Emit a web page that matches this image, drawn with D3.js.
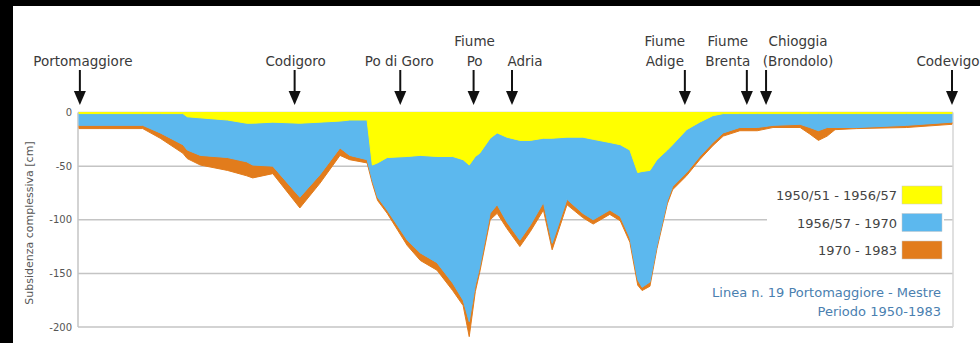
<!DOCTYPE html>
<html>
<head>
<meta charset="utf-8">
<script src="https://cdn.jsdelivr.net/npm/d3@7"></script>
<style>
body { margin: 0; background: #000; }
svg { display: block; }
text { font-family: "DejaVu Sans", sans-serif; }
</style>
</head>
<body>
<script>
// progressive distance along the levelling line (0 = Portomaggiore, 100 = Codevigo)
var dist = [0, 2.4, 7.3, 9.3, 11.9, 12.4, 13.9, 17.0, 19.2, 19.9, 22.2, 25.3, 27.6, 29.9, 31.0, 33.0,
  33.6, 34.2, 35.3, 37.6, 39.1, 41.0, 42.8, 44.0, 44.7, 45.4, 45.9, 47.1, 47.9, 49.0, 50.5, 51.7,
  53.2, 54.2, 55.9, 57.7, 58.9, 60.8, 62.0, 63.1, 64.0, 64.5, 65.4, 66.2, 67.4, 68.0, 69.6, 71.1,
  72.6, 73.8, 75.7, 77.7, 79.5, 82.6, 83.7, 84.7, 85.7, 86.6, 89.1, 94.8, 100];
// cumulative subsidence (cm) at the end of each period
var sub5057 = [-1, -1, -1, -1, -1, -4, -5, -7, -10, -10, -9, -10, -9, -8, -7, -7,
  -49, -47, -42, -41, -40, -41, -41, -44, -49, -41, -38, -24, -19, -23, -26, -26,
  -24, -24, -23, -23, -25, -28, -30, -35, -56, -55, -54, -44, -35, -30, -16, -9,
  -3, -1, -1, -1, -1, -1, -1, -1, -1, -1, -1, -1, -1];
var sub5770 = [-12, -12, -12, -19, -30, -35, -40, -42, -46, -49, -50, -79, -58, -33, -40, -44,
  -63, -79, -91, -119, -131, -140, -159, -175, -195, -161, -144, -94, -86, -102, -119, -105,
  -84, -122, -81, -94, -100, -91, -97, -117, -156, -163, -158, -124, -82, -69, -56, -41,
  -28, -19, -14, -14, -12, -11, -14, -17, -14, -14, -14, -12, -9];
var sub7083 = [-15, -15, -15, -24, -38, -43, -49, -54, -59, -61, -57, -89, -66, -40, -44, -47,
  -66, -82, -94, -124, -138, -147, -166, -180, -209, -167, -149, -100, -94, -108, -125, -111,
  -91, -128, -86, -98, -104, -95, -101, -121, -161, -166, -162, -127, -85, -72, -59, -44,
  -31, -22, -17, -17, -14, -14, -20, -26, -22, -16, -15, -14, -11];
var periods = ["1950/51 - 1956/57", "1956/57 - 1970", "1970 - 1983"];
var yTicks = [0, -50, -100, -150, -200];
var places = [["Portomaggiore"], ["Codigoro"], ["Po di Goro"], ["Fiume", "Po"], ["Adria"],
  ["Fiume", "Adige"], ["Fiume", "Brenta"], ["Chioggia", "(Brondolo)"], ["Codevigo"]];
var placeDist = [0.1, 24.7, 36.8, 45.2, 49.6, 69.4, 76.5, 78.7, 100];
var noteLines = ["Linea n. 19 Portomaggiore - Mestre", "Periodo 1950-1983"];

var colors = ["#ffff00", "#5cb8ee", "#e27c1c"];
var labelDx = [3, 1, -1, 1, 13, -20, -19, 32, -4];

var width = 980, height = 343;
var svg = d3.select("body").append("svg")
  .attr("width", width)
  .attr("height", height);

svg.append("rect")
  .attr("x", 13).attr("y", 6)
  .attr("width", width - 13).attr("height", height - 6)
  .attr("fill", "#ffffff");

var x = d3.scaleLinear().domain([0, 100]).range([79, 952]);
var y = d3.scaleLinear().domain([0, -200]).range([112.5, 327]);

// grid
svg.append("g").selectAll("line")
  .data(yTicks)
  .enter().append("line")
  .attr("x1", x(0) - 1).attr("x2", x(100) + 1)
  .attr("y1", function (d) { return y(d); })
  .attr("y2", function (d) { return y(d); })
  .attr("stroke", "#c4c4c4")
  .attr("stroke-width", 1.5);
svg.append("line")
  .attr("x1", x(0) - 1).attr("x2", x(0) - 1)
  .attr("y1", y(0)).attr("y2", y(-200))
  .attr("stroke", "#c4c4c4").attr("stroke-width", 1.5);
svg.append("line")
  .attr("x1", x(100) + 1).attr("x2", x(100) + 1)
  .attr("y1", y(0)).attr("y2", y(-200))
  .attr("stroke", "#d6d6d6").attr("stroke-width", 1.5);

// stacked bands
var bands = [
  { top: dist.map(function () { return 0; }), bottom: sub5057 },
  { top: sub5057, bottom: sub5770 },
  { top: sub5770, bottom: sub7083 }
];
var area = d3.area()
  .x(function (d) { return x(d.x); })
  .y0(function (d) { return y(d.a); })
  .y1(function (d) { return y(d.b); });
for (var i = bands.length - 1; i >= 0; i --) {
  var pts = dist.map(function (dd, j) {
    return { x: dd, a: bands[i].top[j], b: bands[i].bottom[j] };
  });
  svg.append("path")
    .datum(pts)
    .attr("d", area)
    .attr("fill", colors[i])
    .attr("stroke", colors[i])
    .attr("stroke-width", 1)
    .attr("stroke-linejoin", "round");
}

// y axis
var yAxis = d3.axisLeft(y)
  .tickValues(yTicks)
  .tickSize(0)
  .tickPadding(0)
  .tickFormat(function (d) { return String(d); });
var ag = svg.append("g")
  .attr("transform", "translate(72,0)")
  .call(yAxis);
ag.select(".domain").remove();
ag.selectAll("text")
  .attr("font-family", "DejaVu Sans")
  .attr("font-size", 10)
  .attr("fill", "#555");

svg.append("text")
  .attr("transform", "translate(33,223) rotate(-90)")
  .attr("text-anchor", "middle")
  .attr("font-size", 11)
  .attr("fill", "#555")
  .text("Subsidenza complessiva [cm]");

// place labels and arrows
for (var k = 0; k < places.length; k ++) {
  var px = x(placeDist[k]);
  svg.append("line")
    .attr("x1", px).attr("x2", px)
    .attr("y1", 70).attr("y2", 93)
    .attr("stroke", "#111").attr("stroke-width", 2);
  svg.append("path")
    .attr("d", "M" + (px - 6) + ",91L" + (px + 6) + ",91L" + px + ",105Z")
    .attr("fill", "#111");
  var lines = places[k];
  for (var m = 0; m < lines.length; m ++) {
    svg.append("text")
      .attr("x", px + labelDx[k])
      .attr("y", 66 - (lines.length - 1 - m) * 20)
      .attr("text-anchor", "middle")
      .attr("font-size", 13.5)
      .attr("fill", "#3a3a3a")
      .text(lines[m]);
  }
}

// legend
svg.append("rect")
  .attr("x", 767).attr("y", 172)
  .attr("width", 177).attr("height", 95)
  .attr("fill", "#ffffff");
var lg = svg.append("g").selectAll("g")
  .data(periods)
  .enter().append("g")
  .attr("transform", function (d, i) { return "translate(0," + (186 + i * 27.5) + ")"; });
lg.append("rect")
  .attr("x", 902).attr("width", 40).attr("height", 18)
  .attr("fill", function (d, i) { return colors[i]; })
  .attr("stroke", "#c8c8c8").attr("stroke-width", 0.5);
lg.append("text")
  .attr("x", 897).attr("y", 14)
  .attr("text-anchor", "end")
  .attr("font-size", 13)
  .attr("fill", "#444")
  .text(function (d) { return d; });

svg.append("g").selectAll("text")
  .data(noteLines)
  .enter().append("text")
  .attr("x", 941)
  .attr("y", function (d, i) { return 297 + i * 19; })
  .attr("text-anchor", "end")
  .attr("font-size", 13)
  .attr("fill", "#4a80b0")
  .text(function (d) { return d; });
</script>
</body>
</html>
